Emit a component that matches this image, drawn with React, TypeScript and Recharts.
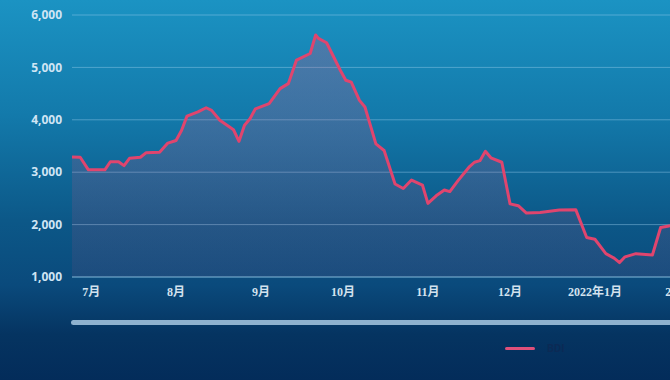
import React from "react";
import { AreaChart, Area, XAxis, YAxis, CartesianGrid, Legend } from "recharts";

const dates = [
  "2021-07-08","2021-07-11","2021-07-14","2021-07-20","2021-07-22","2021-07-25","2021-07-27","2021-07-29",
  "2021-08-02","2021-08-04","2021-08-09","2021-08-12","2021-08-15","2021-08-17","2021-08-19","2021-08-23",
  "2021-08-26","2021-08-28","2021-08-31","2021-09-05","2021-09-07","2021-09-09","2021-09-11","2021-09-13",
  "2021-09-18","2021-09-22","2021-09-25","2021-09-28","2021-10-03","2021-10-05","2021-10-06","2021-10-09",
  "2021-10-14","2021-10-16","2021-10-18","2021-10-21","2021-10-23","2021-10-27","2021-10-30","2021-11-03",
  "2021-11-06","2021-11-09","2021-11-13","2021-11-15","2021-11-18","2021-11-21","2021-11-23","2021-11-26",
  "2021-11-30","2021-12-02","2021-12-04","2021-12-06","2021-12-08","2021-12-12","2021-12-15","2021-12-18",
  "2021-12-21","2021-12-26","2022-01-02","2022-01-08","2022-01-12","2022-01-15","2022-01-19","2022-01-22",
  "2022-01-24","2022-01-26","2022-01-30","2022-02-05","2022-02-08","2022-02-11","2022-02-14","2022-02-18",
];

const bdi = [
  3290, 3285, 3045, 3045, 3200, 3200, 3125, 3265,
  3285, 3370, 3380, 3555, 3605, 3795, 4070, 4150,
  4230, 4180, 3990, 3810, 3590, 3895, 4020, 4210,
  4310, 4595, 4690, 5140, 5265, 5620, 5555, 5470,
  4945, 4755, 4720, 4370, 4245, 3540, 3415, 2775,
  2690, 2850, 2755, 2405, 2550, 2660, 2630, 2840,
  3095, 3190, 3220, 3400, 3275, 3190, 2395, 2360,
  2220, 2230, 2280, 2285, 1755, 1720, 1445, 1360,
  1275, 1385, 1445, 1420, 1945, 1975, 1985, 1990,
];

const tickDates = ["2021-07-15","2021-08-15","2021-09-15","2021-10-15","2021-11-15","2021-12-15","2022-01-15","2022-02-13"];
const tickLabels = ["7月","8月","9月","10月","11月","12月","2022年1月","2月"];
const yTicks = [1000, 2000, 3000, 4000, 5000, 6000];
const seriesName = "BDI";

const dayIndex = (s: string) => {
  const [y, m, d] = s.split("-").map(Number);
  return Math.round((Date.UTC(y, m - 1, d) - Date.UTC(2021, 6, 1)) / 86400000);
};

const data = dates.map((d, i) => ({ t: dayIndex(d), v: bdi[i] }));
const xTicks = tickDates.map(dayIndex);
const labelOf = (t: number) => {
  const i = xTicks.indexOf(t);
  return i >= 0 ? tickLabels[i] : "";
};

const renderLegend = () => (
  <div style={{ display: "flex", alignItems: "center" }}>
    <div style={{ width: 30, height: 3, background: "#e0507a", borderRadius: 2 }} />
    <span style={{ marginLeft: 12, color: "#0b2a55", fontSize: 11, fontFamily: "Roboto, sans-serif", fontWeight: 700 }}>
      {seriesName}
    </span>
  </div>
);

export default function App() {
  return (
    <div
      style={{
        position: "absolute",
        left: 0,
        top: 0,
        width: 670,
        height: 380,
        overflow: "hidden",
        background: "linear-gradient(180deg, #1b93c3 0%, #137aab 30%, #0c5888 58%, #0a4a7c 75%, #053461 88%, #032c5a 100%)",
      }}
    >
      <AreaChart width={688} height={380} data={data} margin={{ top: 15, right: 0, bottom: 59, left: 0 }}>
        <defs>
          <linearGradient id="bdiFill" x1="0" y1="0" x2="0" y2="1">
            <stop offset="0%" stopColor="#d8507e" stopOpacity={0.45} />
            <stop offset="100%" stopColor="#d8507e" stopOpacity={0.14} />
          </linearGradient>
        </defs>
        <CartesianGrid horizontal vertical={false} stroke="rgba(150,205,235,0.45)" strokeWidth={1} />
        <XAxis
          dataKey="t"
          type="number"
          domain={[data[0].t, data[data.length - 1].t]}
          ticks={xTicks}
          interval={0}
          tickFormatter={labelOf}
          height={30}
          tickSize={0}
          tickMargin={10}
          axisLine={{ stroke: "rgba(150,205,235,0.55)" }}
          tick={{ fill: "#d3e2ee", fontSize: 12, fontWeight: 700, fontFamily: "'Liberation Serif', 'Noto Sans CJK SC', serif" }}
        />
        <YAxis
          domain={[1000, 6000]}
          ticks={yTicks}
          width={72}
          tickSize={0}
          tickMargin={10}
          axisLine={false}
          tickFormatter={(v: number) => v.toLocaleString("en-US")}
          tick={{ fill: "#cfe5f4", fontSize: 12, fontWeight: 700, fontFamily: "'Open Sans', sans-serif" }}
        />
        <Legend
          content={renderLegend}
          wrapperStyle={{ position: "absolute", left: 505, top: 342, width: 120, height: 14 }}
        />
        <Area
          type="linear"
          dataKey="v"
          name={seriesName}
          stroke="#e0456e"
          strokeWidth={3}
          strokeLinejoin="round"
          fill="url(#bdiFill)"
          isAnimationActive={false}
          dot={false}
          activeDot={false}
        />
      </AreaChart>
      <div
        style={{
          position: "absolute",
          left: 71,
          top: 320,
          width: 620,
          height: 5,
          borderRadius: 3,
          background: "#8fb2cf",
        }}
      />
    </div>
  );
}
